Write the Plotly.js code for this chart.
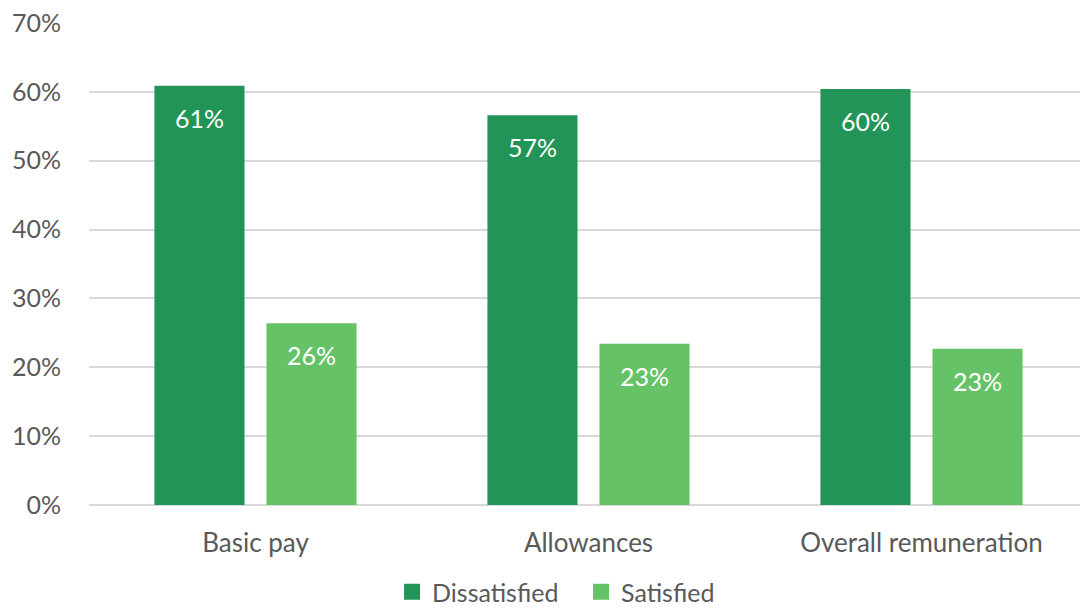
<!DOCTYPE html>
<html>
<head>
<meta charset="utf-8">
<script src="https://cdn.plot.ly/plotly-3.0.1.min.js"></script>
<style>html,body{margin:0;padding:0;background:#fff;}#chart{width:1080px;height:615px;}</style>
</head>
<body>
<div id="chart"></div>
<script>
const categories = ["Basic pay", "Allowances", "Overall remuneration"];
const dissatisfied = [0.609, 0.566, 0.604];
const satisfied = [0.264, 0.234, 0.227];
const seriesNames = ["Dissatisfied", "Satisfied"];
const seriesColors = ["#239457", "#66c266"];
const tickVals = [0, 0.1, 0.2, 0.3, 0.4, 0.5, 0.6, 0.7];
const tickText = ["0%", "10%", "20%", "30%", "40%", "50%", "60%", "70%"];

const font = "Lato, 'Open Sans', sans-serif";
const fsize = 25;
const fmt = v => Math.round(v * 100) + "%";

const traces = [
  {type: "bar", name: seriesNames[0], x: categories, y: dissatisfied,
   marker: {color: seriesColors[0]}, hoverinfo: "skip", showlegend: false},
  {type: "bar", name: seriesNames[1], x: categories, y: satisfied,
   marker: {color: seriesColors[1]}, hoverinfo: "skip", showlegend: false},
  // legend-only entries with larger square swatches
  {type: "scatter", mode: "markers", name: seriesNames[0], x: [null], y: [null],
   marker: {symbol: "square", size: 16, color: seriesColors[0]}, hoverinfo: "skip"},
  {type: "scatter", mode: "markers", name: seriesNames[1], x: [null], y: [null],
   marker: {symbol: "square", size: 16, color: seriesColors[1]}, hoverinfo: "skip"}
];

const annotations = [];
[[dissatisfied, -56], [satisfied, 56]].forEach(([vals, xs]) => {
  vals.forEach((v, i) => {
    annotations.push({x: categories[i], y: v, xref: "x", yref: "y", text: fmt(v),
      showarrow: false, xshift: xs, yanchor: "top", yshift: -15,
      font: {color: "#ffffff", size: fsize, family: font}});
  });
});

const layout = {
  width: 1080, height: 615,
  margin: {l: 89, r: 0, t: 23, b: 110},
  paper_bgcolor: "#ffffff", plot_bgcolor: "#ffffff",
  font: {family: font, size: fsize, color: "#595959"},
  barmode: "group", bargap: 0.327, bargroupgap: 0.196,
  showlegend: true,
  legend: {orientation: "h", xref: "container", x: 0.363, xanchor: "left",
           y: 0, yref: "container", yanchor: "bottom",
           entrywidth: 144, entrywidthmode: "pixels",
           font: {size: fsize, color: "#595959"}, traceorder: "normal", itemwidth: 30},
  annotations: annotations,
  xaxis: {type: "category", range: [-0.5, 2.476], showgrid: false, zeroline: false, showline: false,
          automargin: false, ticks: "", tickfont: {size: 26, color: "#595959"}, ticklabelstandoff: 20},
  yaxis: {range: [0, 0.7], tickvals: tickVals, ticktext: tickText, automargin: false,
          showgrid: true, gridcolor: "#d9d9d9", gridwidth: 2, zeroline: true,
          zerolinecolor: "#d9d9d9", zerolinewidth: 2, showline: false,
          ticks: "", ticklabelstandoff: 27, tickfont: {size: fsize, color: "#595959"}}
};

Plotly.newPlot("chart", traces, layout, {displayModeBar: false, staticPlot: true});
</script>
</body>
</html>
